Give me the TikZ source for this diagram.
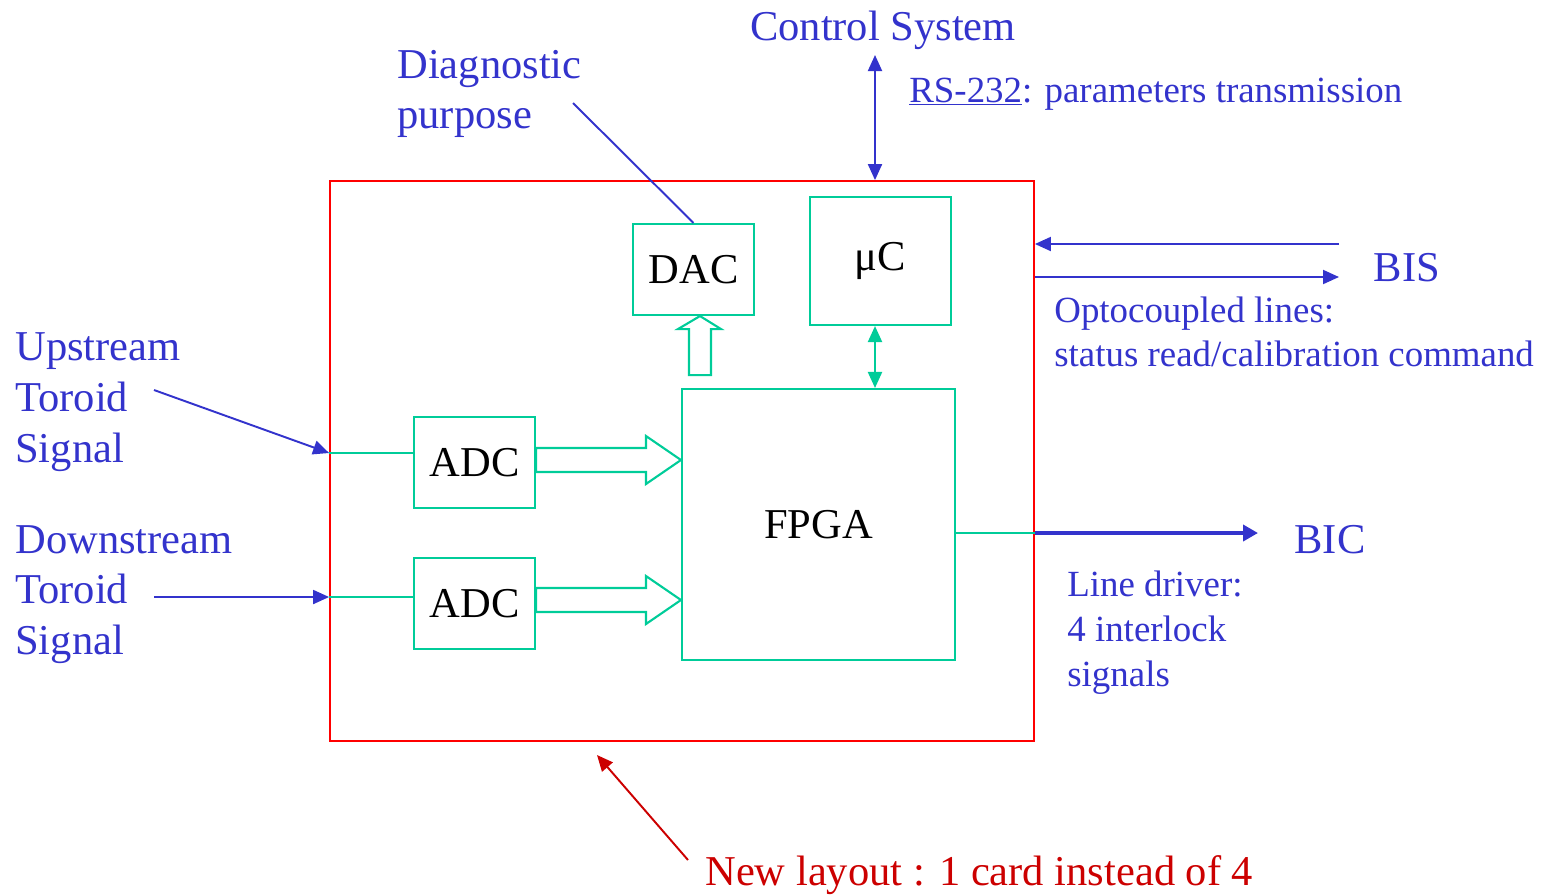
\documentclass[tikz,border=0pt]{standalone}
\usepackage{fontspec}
\setmainfont{Liberation Serif}
\usetikzlibrary{arrows.meta}
\definecolor{lblue}{HTML}{3333CC}
\definecolor{lgreen}{HTML}{00CC99}
\definecolor{lred}{HTML}{FF0000}
\definecolor{dred}{HTML}{CC0000}
\newcommand\bigtxt{\fontsize{24.2pt}{29pt}\selectfont}
\newcommand\smalltxt{\fontsize{21pt}{25pt}\selectfont}
\tikzset{
  blk/.style={draw=lgreen, line width=1.2pt, inner sep=0pt, font=\bigtxt, text=black},
  lbl/.style={inner sep=0pt, font=\bigtxt, text=lblue},
  slbl/.style={inner sep=0pt, font=\smalltxt, text=lblue},
  tri/.tip={Triangle[length=0.32cm,width=0.28cm]},
  bwire/.style={draw=lblue, line width=1.1pt},
  gwire/.style={draw=lgreen, line width=1.2pt},
  hollow/.style={draw=lgreen, line width=1.2pt, line join=miter},
}
\begin{document}
\begin{tikzpicture}[x=0.02cm, y=-0.02cm]
\useasboundingbox (0,0) rectangle (1551,894);

% card outline and functional blocks
\node[draw=lred, line width=1.1pt, minimum width=14.08cm, minimum height=11.2cm, inner sep=0pt] (card) at (682,461) {};
\node[blk, minimum width=2.42cm, minimum height=1.82cm] (dac) at (693.5,269.5) {DAC};
\node[blk, minimum width=2.82cm, minimum height=2.56cm] (uc) at (880.5,261) {μC};
\node[blk, minimum width=5.46cm, minimum height=5.42cm] (fpga) at (818.5,524.5) {FPGA};
\node[blk, minimum width=2.42cm, minimum height=1.82cm] (adc1) at (474.5,462.5) {ADC};
\node[blk, minimum width=2.42cm, minimum height=1.82cm] (adc2) at (474.5,603.5) {ADC};

% wide data paths ADC -> FPGA
\coordinate (t1) at (fpga.west |- 0,460);
\coordinate (t2) at (fpga.west |- 0,600);
\draw[hollow] (t1) -- ++(-35,24) -- ++(0,-12) -- ++(-110,0) -- ++(0,-24) -- ++(110,0) -- ++(0,-12) -- cycle;
\draw[hollow] (t2) -- ++(-35,24) -- ++(0,-12) -- ++(-110,0) -- ++(0,-24) -- ++(110,0) -- ++(0,-12) -- cycle;
% wide data path FPGA -> DAC
\coordinate (t3) at (dac.south -| 700,0);
\draw[hollow] (t3) -- ++(21,13) -- ++(-10,0) -- ++(0,46) -- ++(-22,0) -- ++(0,-46) -- ++(-11,0) -- cycle;

% microcontroller <-> FPGA
\coordinate (ux) at (875,0);
\draw[gwire, tri-tri] (uc.south -| ux) -- (fpga.north -| ux);

% control system link
\coordinate (csend) at (875,55);
\draw[bwire, tri-tri] (csend) -- (csend |- card.north);
\node[lbl, anchor=base] (cs) at (883,40) {Control System};
\node[slbl, anchor=base west] (rs) at (909,102) {\underline{RS-232}: parameters transmission};

% diagnostic output
\coordinate (dgend) at (573,103);
\draw[bwire] (dgend) -- (dac.north);
\node[lbl, anchor=base west] (dg1) at (397,78) {Diagnostic};
\node[lbl, anchor=base west] (dg2) at (397,128) {purpose};

% toroid inputs
\coordinate (upstart) at (154,390);
\coordinate (in1) at (card.west |- 0,453);
\draw[bwire, -tri] (upstart) -- (in1);
\draw[gwire] (in1) -- (adc1.west |- in1);
\node[lbl, anchor=base west] (up1) at (15,360) {Upstream};
\node[lbl, anchor=base west] (up2) at (15,411) {Toroid};
\node[lbl, anchor=base west] (up3) at (15,462) {Signal};

\coordinate (dnstart) at (154,597);
\coordinate (in2) at (card.west |- dnstart);
\draw[bwire, -tri] (dnstart) -- (in2);
\draw[gwire] (in2) -- (adc2.west |- in2);
\node[lbl, anchor=base west] (dn1) at (15,553) {Downstream};
\node[lbl, anchor=base west] (dn2) at (15,603) {Toroid};
\node[lbl, anchor=base west] (dn3) at (15,654) {Signal};

% BIS optocoupled lines
\coordinate (bisin) at (1339,244);
\coordinate (bisout) at (1339,277);
\draw[bwire, -tri] (bisin) -- (card.east |- bisin);
\draw[bwire, -tri] (card.east |- bisout) -- (bisout);
\node[lbl, anchor=base] (bis) at (1407,281) {BIS};
\node[slbl, anchor=base west] (op1) at (1054,322) {Optocoupled lines:};
\node[slbl, anchor=base west] (op2) at (1054,366) {status read/calibration command};

% BIC line driver
\coordinate (bicend) at (1258,533);
\coordinate (cardout) at (card.east |- bicend);
\draw[gwire] (fpga.east |- bicend) -- (cardout);
\draw[draw=lblue, line width=2.8pt, -{Triangle[length=0.3cm,width=0.32cm]}] (cardout) -- (bicend);
\node[lbl, anchor=base] (bic) at (1330,553) {BIC};
\node[slbl, anchor=base west] (ld1) at (1067,596) {Line driver:};
\node[slbl, anchor=base west] (ld2) at (1067,641) {4 interlock};
\node[slbl, anchor=base west] (ld3) at (1067,686) {signals};

% layout note
\coordinate (nlstart) at (688,860);
\coordinate (nlend) at (597,755);
\draw[draw=dred, line width=1.1pt, -tri, dred] (nlstart) -- (nlend);
\node[lbl, text=dred, anchor=base west] (nl) at (705,885) {New layout : 1 card instead of 4};
\end{tikzpicture}
\end{document}
